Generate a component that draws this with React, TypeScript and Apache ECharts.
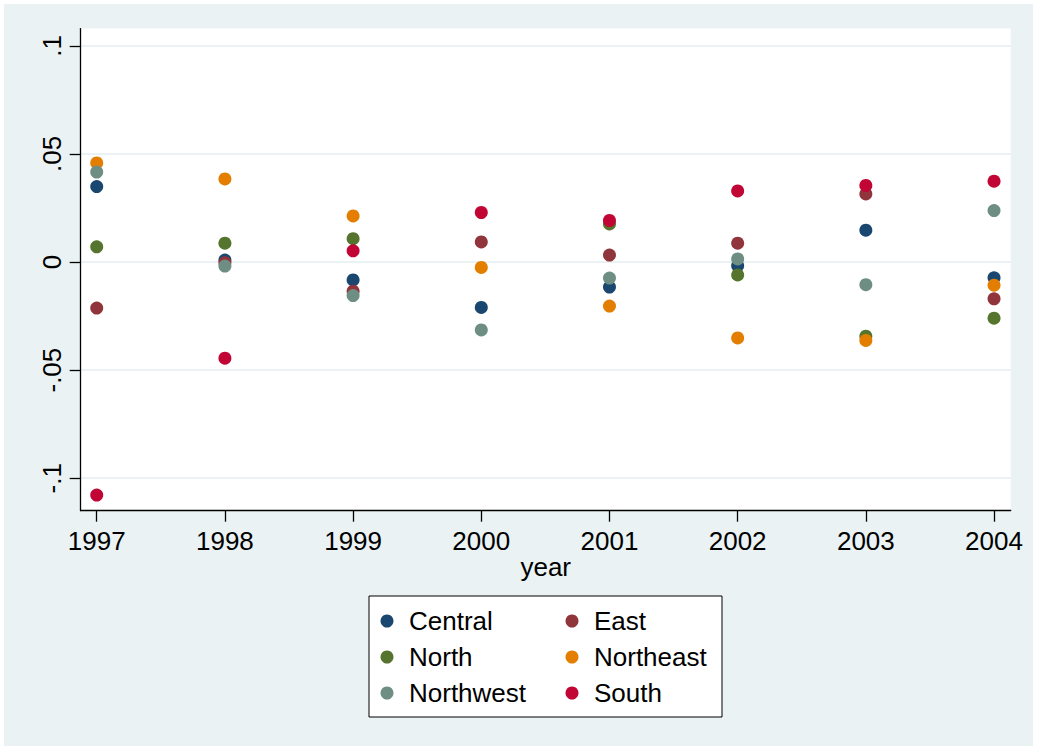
import React, { useEffect, useRef } from "react";
import * as echarts from "echarts";

const years = [1997, 1998, 1999, 2000, 2001, 2002, 2003, 2004];
const central = [0.0349, 0.0009, -0.0083, -0.021, -0.0116, -0.0017, 0.0147, -0.0073];
const east = [-0.0213, -0.0003, -0.0135, 0.0093, 0.0032, 0.0087, 0.0315, -0.017];
const north = [0.007, 0.0087, 0.0108, null, 0.0176, -0.006, -0.0343, -0.026];
const northeast = [0.0458, 0.0384, 0.0213, -0.0025, -0.0204, -0.0351, -0.0363, -0.0107];
const northwest = [0.0416, -0.0019, -0.0155, -0.0314, -0.0074, 0.0014, -0.0105, 0.0238];
const south = [-0.1078, -0.0445, 0.0052, 0.0229, 0.0192, 0.0329, 0.0354, 0.0374];

const seriesNames = ["Central", "East", "North", "Northeast", "Northwest", "South"];
const seriesValues = [central, east, north, northeast, northwest, south];
const colors = ["#1a476f", "#90353b", "#55752f", "#e37e00", "#6e8e84", "#c10534"];

const yTicks = [-0.1, -0.05, 0, 0.05, 0.1];
const xTicks = years;

const FONT = "'Liberation Sans', Arial, sans-serif";
const FS = 26;

export default function App() {
  const ref = useRef<HTMLDivElement>(null);
  useEffect(() => {
    document.body.style.margin = "0";
    if (!ref.current) return;
    const chart = echarts.init(ref.current, null, { renderer: "svg" });
    const series = seriesNames.map((name, i) => ({
      name,
      type: "scatter",
      symbol: "circle",
      symbolSize: 13,
      z: 2,
      itemStyle: { color: colors[i], opacity: 1 },
      data: years
        .map((y, j) => (seriesValues[i][j] == null ? null : [y, seriesValues[i][j]]))
        .filter((d) => d !== null),
    }));
    chart.setOption({
      animation: false,
      backgroundColor: "transparent",
      textStyle: { fontFamily: FONT },
      grid: {
        left: 80.7,
        top: 28.6,
        right: 1037 - 1010.7,
        bottom: 750 - 510.7,
        show: true,
        backgroundColor: "#ffffff",
        borderWidth: 0,
      },
      xAxis: {
        type: "value",
        min: 1996.875,
        max: 2004.13,
        name: "year",
        nameLocation: "middle",
        nameGap: 43,
        nameMoveOverlap: false,
        nameTextStyle: { fontSize: FS, color: "#000", fontFamily: FONT },
        axisLine: { show: true, onZero: false, lineStyle: { color: "#000", width: 1.3 } },
        axisTick: { show: true, length: 11, customValues: xTicks, lineStyle: { color: "#000", width: 1.3 } },
        axisLabel: {
          customValues: xTicks,
          fontSize: FS,
          color: "#000",
          fontFamily: FONT,
          margin: 17,
          formatter: (v: number) => String(Math.round(v)),
        },
        splitLine: { show: false },
      },
      yAxis: {
        type: "value",
        min: -0.11503,
        max: 0.10796,
        axisLine: { show: true, onZero: false, lineStyle: { color: "#000", width: 1.3 } },
        axisTick: { show: true, length: 11, customValues: yTicks, lineStyle: { color: "#000", width: 1.3 } },
        axisLabel: {
          customValues: yTicks,
          rotate: 90,
          fontSize: FS,
          color: "#000",
          fontFamily: FONT,
          margin: 16,
          formatter: (v: number) => {
            if (Math.abs(v) < 1e-9) return "0";
            return String(+v.toFixed(2)).replace("0.", ".");
          },
        },
        splitLine: { show: true, lineStyle: { color: "#eaf2f3", width: 2 } },
      },
      legend: {
        left: 369,
        top: 596,
        width: 380,
        orient: "horizontal",
        padding: [12, 6, 11, 11.5],
        itemGap: 10,
        itemWidth: 34,
        itemHeight: 13,
        icon: "circle",
        backgroundColor: "#ffffff",
        borderColor: "#000",
        borderWidth: 1,
        textStyle: { fontSize: FS, color: "#000", fontFamily: FONT, width: 146.5, lineHeight: 26 },
        data: seriesNames.map((n, i) =>
          i % 2 === 1 ? { name: n, textStyle: { width: 122 } } : { name: n }
        ),
      },
      series,
    });
    return () => chart.dispose();
  }, []);
  return (
    <div style={{ position: "relative", width: 1037, height: 750, background: "#ffffff" }}>
      <div
        style={{ position: "absolute", left: 4, top: 4, width: 1029, height: 742, background: "#eaf2f3" }}
      />
      <div ref={ref} style={{ position: "absolute", left: 0, top: 0, width: 1037, height: 750 }} />
    </div>
  );
}
